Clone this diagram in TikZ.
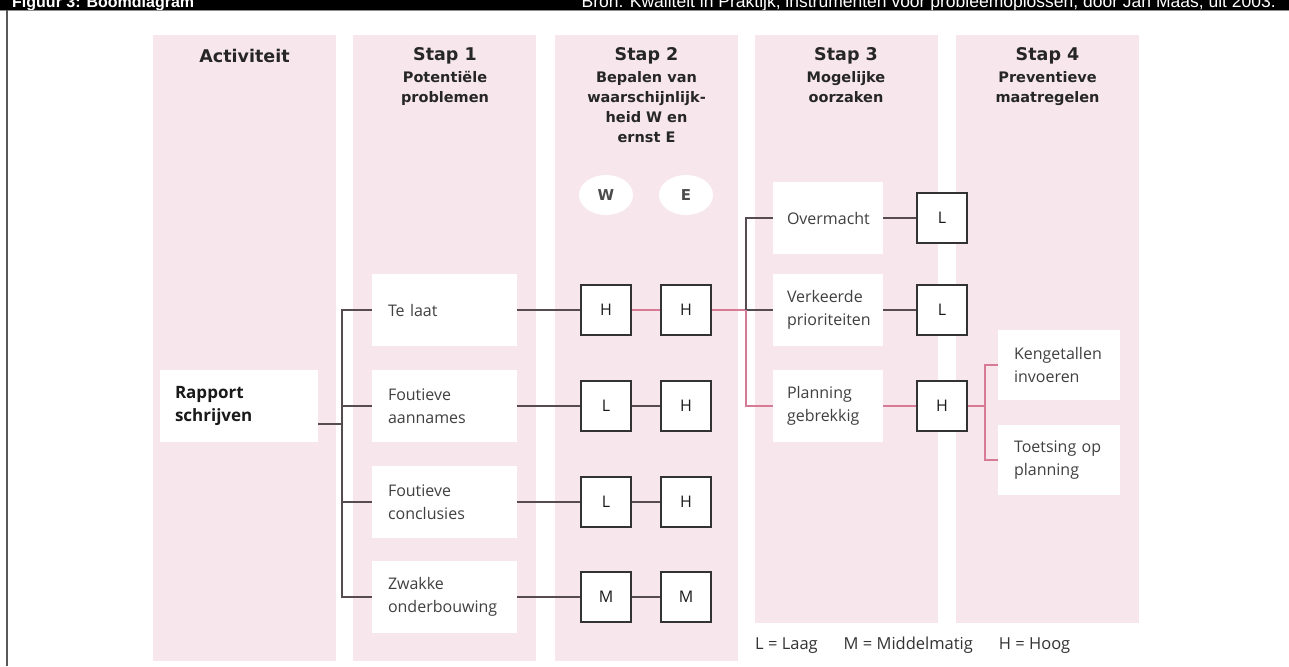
\documentclass[tikz,border=0pt]{standalone}
\usepackage{fontspec}
\usetikzlibrary{shapes.geometric}
\setmainfont{Open Sans}
\newfontfamily\headfont{DejaVu Sans}
\newfontfamily\barfont{Liberation Sans}
\definecolor{colpink}{RGB}{247,231,237}
\definecolor{linepink}{RGB}{214,122,150}
\definecolor{linedark}{RGB}{85,75,80}

\begin{document}
\begin{tikzpicture}[x=1pt, y=-1pt,
    title/.style={font=\headfont\bfseries\fontsize{17.5}{20}\selectfont, text=black!85, inner sep=0pt},
    subtitle/.style={font=\headfont\bfseries\fontsize{14.5}{20}\selectfont, text=black!85, align=center, inner sep=0pt, anchor=north},
    probbox/.style={fill=white, text width=113pt, inner xsep=16pt, minimum height=72pt, align=left, font=\fontsize{16}{23}\selectfont, text=black!75},
    causebox/.style={probbox, text width=82pt, inner xsep=14pt},
    measurebox/.style={probbox, text width=90pt, minimum height=70pt},
    score/.style={draw=black!80, line width=1.6pt, fill=white, minimum size=50pt, inner sep=0pt, font=\fontsize{16}{18}\selectfont, text=black!90},
    weight/.style={ellipse, fill=white, minimum width=54pt, minimum height=40pt, font=\headfont\bfseries\fontsize{15}{18}\selectfont, text=black!70},
    conn/.style={draw=linedark, line width=1.8pt},
    hot/.style={draw=linepink, line width=1.8pt}
]
\useasboundingbox (0,0) rectangle (1289,666);
\fill[white] (0,0) rectangle (1289,666);

\begin{scope}
\clip (0,0) rectangle (1289,10);
\fill[black] (0,0) rectangle (1289,10);
\node[anchor=base west, inner sep=0pt, text=white, font=\barfont\bfseries\fontsize{16}{18}\selectfont] (figtitle) at (12,8) {Figuur 3: Boomdiagram};
\node[anchor=base east, inner sep=0pt, text=white, font=\barfont\fontsize{17.5}{18}\selectfont] (source) at (1276,8) {Bron: Kwaliteit in Praktijk, instrumenten voor probleemoplossen, door Jan Maas, uit 2003.};
\end{scope}
\draw[black!45, line width=1.2pt] (0,10.6) -- (1289,10.6);
\draw[black!65, line width=2pt] (7,10) -- (7,666);

\foreach \xa/\yb in {153/661, 353/661, 555/661, 755/623, 956/623}
  \fill[colpink] (\xa,35) rectangle (\xa+183,\yb);

\node[title] (h0) at (244.5,56) {Activiteit};
\node[title] (h1) at (445,56) {Stap 1};
\node[subtitle] (sub1) at (445,71.5) {Potentiële\\problemen};
\node[title] (h2) at (646.5,56) {Stap 2};
\node[subtitle] (sub2) at (646.5,71.5) {Bepalen van\\waarschijnlijk-\\heid W en\\ernst E};
\node[title] (h3) at (846,56) {Stap 3};
\node[subtitle] (sub3) at (846,71.5) {Mogelijke\\oorzaken};
\node[title] (h4) at (1047.5,56) {Stap 4};
\node[subtitle] (sub4) at (1047.5,71.5) {Preventieve\\maatregelen};

\node[weight] (wlabel) at (606,195) {W};
\node[weight] (elabel) at (686,195) {E};

\node[probbox, text width=128pt, inner xsep=15pt, font=\bfseries\fontsize{17}{23}\selectfont, text=black!90] (rapport) at (239,406) {Rapport\\schrijven};

\foreach \i/\y/\txt/\sw/\se/\link in {1/310/Te laat/H/H/hot, 2/406/Foutieve\\aannames/L/H/conn, 3/502/Foutieve\\conclusies/L/H/conn, 4/597/Zwakke\\onderbouwing/M/M/conn} {
  \node[probbox] (p\i) at (444.5,\y) {\txt};
  \node[score] (w\i) at (606,\y) {\sw};
  \node[score] (e\i) at (686,\y) {\se};
  \draw[conn] (p\i) -- (w\i);
  \draw[\link] (w\i) -- (e\i);
}
\draw[conn] (p1.west) -- ++(-30,0) |- (p4.west);
\draw[conn] (p2.west) -- ++(-30,0);
\draw[conn] (p3.west) -- ++(-30,0);
\draw[conn] ([yshift=-18pt]rapport.east) -- ++(24,0);

\node[causebox] (c1) at (828,218) {Overmacht};
\node[causebox] (c2) at (828,310) {Verkeerde\\prioriteiten};
\node[causebox] (c3) at (828,406) {Planning\\gebrekkig};
\node[score] (s1) at (942,218) {L};
\node[score] (s2) at (942,310) {L};
\node[score] (s3) at (942,406) {H};

\coordinate (fork) at (746,310);
\draw[hot] (e1.east) -- (fork);
\draw[conn] (c1.west) -| (fork) -- (c2.west);
\draw[hot] (fork) |- (c3.west);
\draw[conn] (c1) -- (s1);
\draw[conn] (c2) -- (s2);
\draw[hot] (c3) -- (s3);

\node[measurebox] (m1) at (1059,365) {Kengetallen\\invoeren};
\node[measurebox] (m2) at (1059,460) {Toetsing op\\planning};
\coordinate (fork2) at (985,406);
\draw[hot] (s3.east) -- (fork2);
\draw[hot] (m1.west) -| (fork2) |- (m2.west);

\node[anchor=west, inner sep=0pt, font=\fontsize{16.5}{18}\selectfont, text=black!80] (legend) at (755,645) {L = Laag\hspace{26pt}M = Middelmatig\hspace{26pt}H = Hoog};
\end{tikzpicture}
\end{document}
